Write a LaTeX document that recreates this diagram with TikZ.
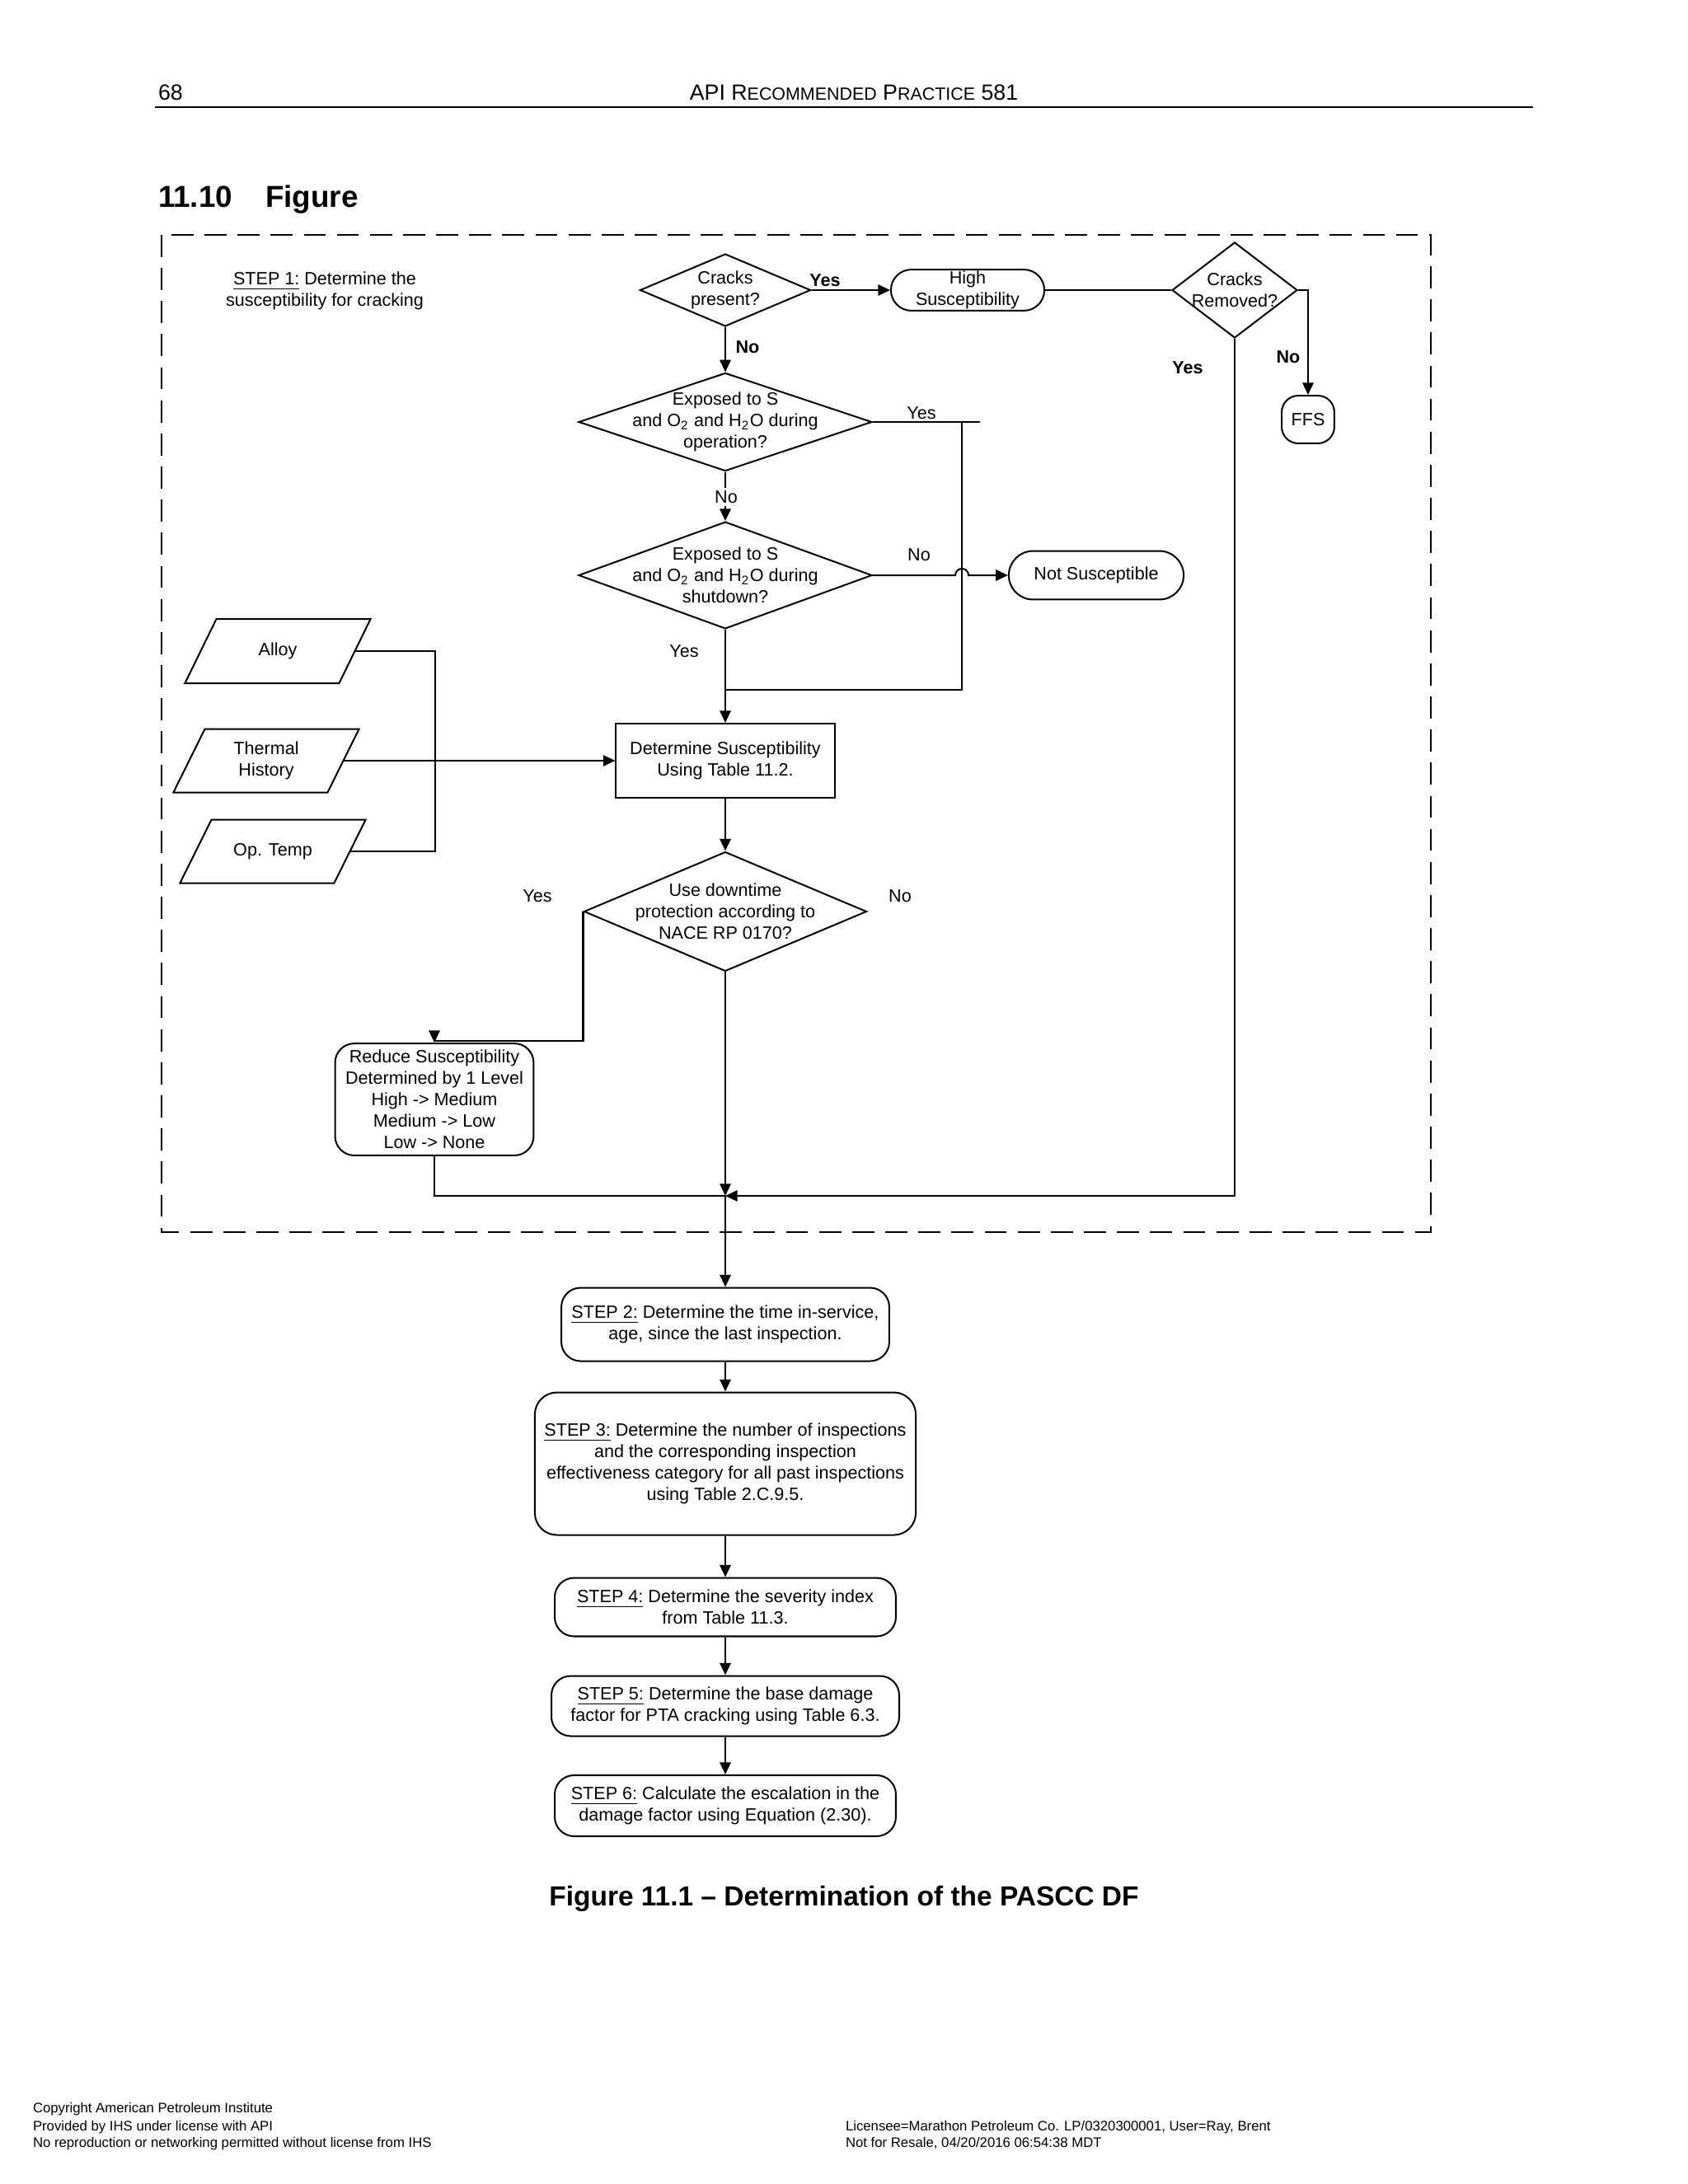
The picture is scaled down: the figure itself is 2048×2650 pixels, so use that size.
\documentclass[tikz,border=0pt]{standalone}
\usepackage{fontspec}
\setmainfont{Liberation Sans}
\usetikzlibrary{shapes,arrows.meta,positioning}

% outline of a data (parallelogram) box around a plain node
\newcommand\paraline[1]{%
  \draw ([xshift=-5.7pt]#1.south west) -- ([xshift=5.7pt]#1.north west)
    -- ([xshift=5.7pt]#1.north east) -- ([xshift=-5.7pt]#1.south east) -- cycle;}
\newcommand\smallcap[1]{{\fontsize{6.4}{7}\selectfont #1}}

\begin{document}
\begin{tikzpicture}[
    x=0.29883pt, y=-0.29883pt,
    line width=0.6pt,
    >={Triangle[length=4.4pt,width=4pt]},
    txt/.style={align=center, inner sep=0pt, font=\fontsize{6.45}{7.8}\selectfont},
    lbl/.style={txt},
    blbl/.style={txt, font=\fontsize{6.45}{7.8}\selectfont\bfseries},
    dia/.style={diamond, draw, inner sep=0pt},
    box/.style={rectangle, draw, txt},
    rbox/.style={rectangle, draw, rounded corners=7pt, txt},
    para/.style={txt},
    foot/.style={anchor=base west, inner sep=0pt, font=\fontsize{5}{6.3}\selectfont}
]
    \fill[white] (0,0) rectangle (2048,2650);
    \useasboundingbox (0,0) rectangle (2048,2650);

    % page header
    \node[anchor=base west, inner sep=0pt, font=\fontsize{8}{9.6}\selectfont] (pgno) at (191,121) {68};
    \node[anchor=base, inner sep=0pt, font=\fontsize{8}{9.6}\selectfont] (hdr) at (1036,121)
        {API R\smallcap{ECOMMENDED} P\smallcap{RACTICE} 581};
    \draw[line width=0.8pt] (188,130) -- (1860,130);
    \node[anchor=base west, inner sep=0pt, font=\fontsize{11}{13}\selectfont\bfseries] (secno) at (191,251) {11.10};
    \node[anchor=base west, inner sep=0pt, font=\fontsize{11}{13}\selectfont\bfseries] (sectt) at (321,251) {Figure};

    % step 1 frame
    \draw[dash pattern=on 8pt off 4pt] (196,285) rectangle (1736,1495);
    \node[txt] (step1) at (394,353) {\underline{STEP 1:} Determine the\\susceptibility for cracking};

    \node[dia, minimum width=61.9pt, minimum height=26.3pt] (crk) at (880,352) {};
    \node[txt] (crk-t) at (crk) {Cracks\\present?};
    \node[rbox, rounded corners=7.4pt, minimum width=55.6pt, minimum height=14.9pt] (hisus) at (1174,352) {High\\Susceptibility};
    \node[dia, minimum width=45.4pt, minimum height=34.7pt] (crm) at (1498,352) {};
    \node[txt] (crm-t) at (crm) {Cracks\\Removed?};
    \node[rbox, rounded corners=6pt, minimum width=19.1pt, minimum height=17.3pt] (ffs) at (1587,509) {FFS};

    \node[dia, minimum width=106.4pt, minimum height=35.6pt] (exo) at (880,512) {};
    \node[txt] (exo-t) at (exo) {Exposed to S\\and O\textsubscript{2} and H\textsubscript{2}O during\\operation?};
    \node[dia, minimum width=106.4pt, minimum height=38.8pt] (exs) at (880,698) {};
    \node[txt] (exs-t) at (exs) {Exposed to S\\and O\textsubscript{2} and H\textsubscript{2}O during\\shutdown?};
    \node[rbox, rounded corners=8.8pt, minimum width=63.4pt, minimum height=17.6pt] (nsus) at (1330,698) {Not Susceptible};

    \node[box, minimum width=79.2pt, minimum height=26.9pt] (dsus) at (880,923) {Determine Susceptibility\\Using Table 11.2.};
    \node[dia, minimum width=102.5pt, minimum height=43.3pt] (nace) at (880,1106) {};
    \node[txt] (nace-t) at (nace) {Use downtime\\protection according to\\NACE RP 0170?};

    \node[para, minimum width=55.3pt, minimum height=22.7pt] (alloy) at (337,790) {Alloy};
    \node[para, minimum width=55.3pt, minimum height=22.4pt] (therm) at (323,923) {Thermal\\History};
    \node[para, minimum width=55.3pt, minimum height=22.4pt] (optmp) at (331,1033) {Op. Temp};
    \paraline{alloy}
    \paraline{therm}
    \paraline{optmp}

    \node[rbox, minimum width=72pt, minimum height=40.6pt] (reduce) at (527,1334)
        {Reduce Susceptibility\\Determined by 1 Level\\High -> Medium\\Medium -> Low\\Low -> None};

    \coordinate (mrg) at (880,1451);
    \coordinate (exo-r) at (1189,512);
    \coordinate (yes-j) at (1167,512);
    \coordinate (yes-m) at (880,837);
    \coordinate (hop) at (1159,698);

    % connectors inside step 1
    \draw[->] (crk.east) -- (hisus.west);
    \draw (hisus.east) -- (crm.west);
    \draw[->] (crm.east) -| (ffs.north);
    \draw[->] (crm.south) |- (mrg);
    \draw[->] (crk.south) -- (exo.north);
    \draw[->] (exo.south) -- (exs.north);
    \draw (exo.east) -- (exo-r);
    \draw (yes-j) |- (yes-m);
    \draw[->] (exs.east) -- (hop) arc[start angle=180, end angle=0, radius=2.4pt] -- (nsus.west);
    \draw[->] (exs.south) -- (dsus.north);
    \draw (alloy.east) -- ++(97,0) |- (optmp.east);
    \draw[->] (therm.east) -- (dsus.west);
    \draw[->] (dsus.south) -- (nace.north);
    \draw[->] (nace.west) -- ++(0,157) -| (reduce.north);
    \draw[->] (nace.south) -- (mrg);
    \draw (reduce.south) |- (mrg);

    \node[blbl] (crk-yes) at (1001,340) {Yes};
    \node[blbl] (crk-no) at (907,421) {No};
    \node[blbl] (crm-no) at (1563,433) {No};
    \node[blbl] (crm-yes) at (1441,446) {Yes};
    \node[lbl] (exo-yes) at (1118,501) {Yes};
    \node[lbl, fill=white, inner sep=1pt] (exo-no) at (881,603) {No};
    \node[lbl] (exs-no) at (1115,673) {No};
    \node[lbl] (exs-yes) at (830,790) {Yes};
    \node[lbl] (nace-yes) at (652,1087) {Yes};
    \node[lbl] (nace-no) at (1092,1087) {No};

    % steps 2 to 6
    \node[rbox, minimum width=118.9pt, minimum height=26.6pt] (step2) at (880,1607)
        {\underline{STEP 2:} Determine the time in-service,\\age, since the last inspection.};
    \node[rbox, rounded corners=8pt, minimum width=138.1pt, minimum height=51.7pt] (step3) at (880,1776)
        {\underline{STEP 3:} Determine the number of inspections\\and the corresponding inspection\\effectiveness category for all past inspections\\using Table 2.C.9.5.};
    \node[rbox, minimum width=123.7pt, minimum height=21.2pt] (step4) at (880,1950)
        {\underline{STEP 4:} Determine the severity index\\from Table 11.3.};
    \node[rbox, minimum width=126.1pt, minimum height=21.8pt] (step5) at (880,2070)
        {\underline{STEP 5:} Determine the base damage\\factor for PTA cracking using Table 6.3.};
    \node[rbox, minimum width=123.7pt, minimum height=22.1pt] (step6) at (880,2191)
        {\underline{STEP 6:} Calculate the escalation in the\\damage factor using Equation (2.30).};

    \draw[->] (mrg) -- (step2.north);
    \draw[->] (step2.south) -- (step3.north);
    \draw[->] (step3.south) -- (step4.north);
    \draw[->] (step4.south) -- (step5.north);
    \draw[->] (step5.south) -- (step6.north);

    \node[anchor=base, inner sep=0pt, font=\fontsize{10}{12}\selectfont\bfseries] (cap) at (1024,2312)
        {Figure 11.1 -- Determination of the PASCC DF};

    % page footer
    \node[foot] (ft1) at (39,2563) {Copyright American Petroleum Institute};
    \node[foot] (ft2) at (39,2585) {Provided by IHS under license with API};
    \node[foot] (ft3) at (39,2605) {No reproduction or networking permitted without license from IHS};
    \node[foot] (ft4) at (1025,2585) {Licensee=Marathon Petroleum Co. LP/0320300001, User=Ray, Brent};
    \node[foot] (ft5) at (1025,2605) {Not for Resale, 04/20/2016 06:54:38 MDT};
\end{tikzpicture}
\end{document}
